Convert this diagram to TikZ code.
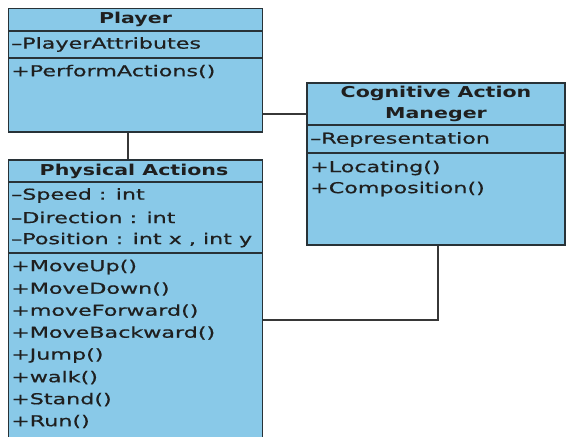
\documentclass[tikz,border=0pt]{standalone}
\usepackage{fontspec}
\setmainfont{DejaVu Sans}[FakeStretch=1.48, FakeBold=0.7]
\newfontfamily\headfont{DejaVu Sans}[FakeStretch=1.37]
\definecolor{classfill}{RGB}{137,201,232}
\definecolor{classline}{RGB}{40,50,55}
\definecolor{linkline}{RGB}{55,55,55}
\tikzset{
  classbox/.style={draw=classline, line width=1.5pt, fill=classfill, rectangle, inner sep=0pt},
  sepline/.style={draw=classline, line width=1.5pt},
  link/.style={draw=linkline, line width=1.4pt},
  member/.style={anchor=west, inner sep=0pt, font=\fontsize{15}{18}\selectfont, text=black!88},
  title/.style={anchor=center, inner sep=0pt, font=\headfont\bfseries\fontsize{15}{18}\selectfont, text=black!88}
}
\begin{document}
\begin{tikzpicture}[x=1pt,y=-1pt]
\useasboundingbox (0,0) rectangle (567,436);
\clip (0,0) rectangle (567,436);

% Player class
\node[classbox, minimum width=254pt, minimum height=123.5pt] (player) at (135.5,70.25) {};
\draw[sepline] (8.5,31) -- (262.5,31);
\draw[sepline] (8.5,58) -- (262.5,58);
\node[title] (playerT) at (135.5,19.5) {Player};
\node[member] (playerA) at (11,44.5) {–PlayerAttributes};
\node[member] (playerM) at (11,71.5) {+PerformActions()};

% Physical Actions class (runs past the lower edge)
\node[classbox, minimum width=254pt, minimum height=300pt] (phys) at (135.5,310) {};
\draw[sepline] (8.5,182) -- (262.5,182);
\draw[sepline] (8.5,253) -- (262.5,253);
\node[title] (physT) at (134,171) {Physical Actions};
\node[member] (pa1) at (11,195.5) {–Speed : int};
\node[member] (pa2) at (11,217.5) {–Direction : int};
\node[member] (pa3) at (11,240) {–Position : int x , int y};
\node[member] (pm1) at (11,267) {+MoveUp()};
\node[member] (pm2) at (11,289) {+MoveDown()};
\node[member] (pm3) at (11,311) {+moveForward()};
\node[member] (pm4) at (11,333) {+MoveBackward()};
\node[member] (pm5) at (11,355.5) {+Jump()};
\node[member] (pm6) at (11,377.5) {+walk()};
\node[member] (pm7) at (11,399.5) {+Stand()};
\node[member] (pm8) at (11,421.5) {+Run()};

% Cognitive Action Maneger class
\node[classbox, minimum width=258pt, minimum height=162pt] (cog) at (436,164) {};
\draw[sepline] (307,125) -- (565,125);
\draw[sepline] (307,153) -- (565,153);
\node[title] (cogT1) at (436,93.5) {Cognitive Action};
\node[title] (cogT2) at (436,114.5) {Maneger};
\node[member] (ca1) at (310,139.5) {–Representation};
\node[member] (cm1) at (310,168) {+Locating()};
\node[member] (cm2) at (310,189) {+Composition()};

% associations
\coordinate (cx1) at (128,0);
\coordinate (cy2) at (0,114);
\coordinate (cx3) at (438,0);
\coordinate (cy3) at (0,320);
\draw[link] (cx1 |- player.south) -- (cx1 |- phys.north);
\draw[link] (player.east |- cy2) -- (cog.west |- cy2);
\draw[link] (cx3 |- cog.south) |- (phys.east |- cy3);
\end{tikzpicture}
\end{document}
